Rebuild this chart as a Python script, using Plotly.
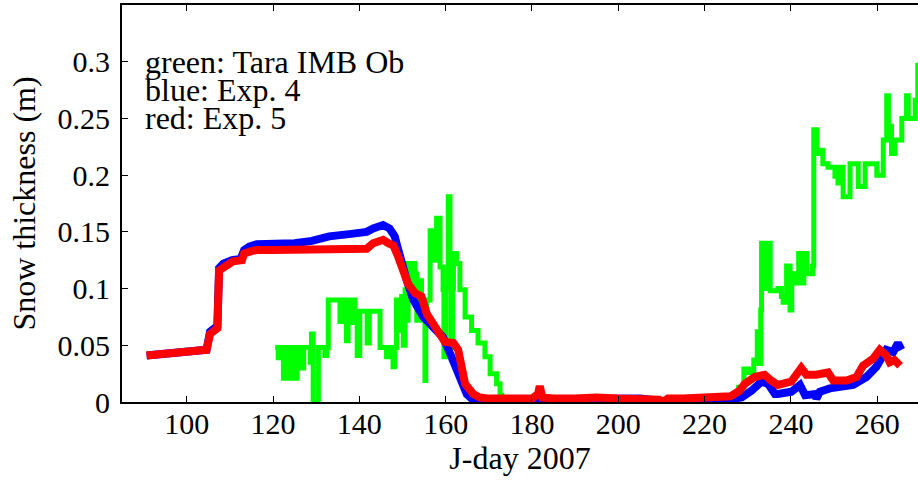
import plotly.graph_objects as go

# Tara IMB observed snow thickness (m) vs. Julian day 2007
obs_day = [120.5, 121.2, 121.6, 122.4, 122.9, 123.5, 124.0, 124.6, 125.1, 125.6,
           126.6, 127.1, 128.2, 128.6, 128.9, 129.3, 130.1, 130.5, 131.6, 132.0,
           132.4, 132.8, 135.3, 135.5, 135.9, 136.3, 137.0, 137.4, 138.2, 138.6,
           139.0, 139.5, 140.1, 141.5, 141.8, 142.3, 144.0, 144.8, 146.0, 146.3,
           146.7, 147.8, 148.2, 148.6, 149.0, 149.8, 150.2, 150.6, 151.0, 151.3,
           152.1, 152.5, 152.9, 153.3, 154.0, 154.4, 155.0, 155.2, 155.4, 155.6,
           156.4, 157.1, 157.9, 158.7, 159.4, 159.6, 160.0, 160.6, 161.0, 161.2,
           161.6, 161.8, 162.5, 163.3, 164.5, 166.0, 167.5, 169.1, 170.3, 171.8,
           172.6, 173.0, 190.0, 210.0, 226.0, 227.4, 227.9, 229.1, 230.2, 231.4,
           232.2, 232.6, 233.0, 233.2, 233.8, 234.7, 235.2, 237.0, 237.8, 238.2,
           239.0, 239.8, 240.2, 241.0, 241.8, 242.6, 243.0, 243.7, 244.5, 245.0,
           245.3, 246.0, 246.7, 247.4, 248.6, 250.2, 250.9, 251.3, 252.1, 252.9,
           253.7, 255.2, 255.6, 256.8, 257.2, 259.5, 259.9, 261.0, 261.4, 262.2,
           262.6, 263.3, 264.1, 265.3, 265.7, 266.4, 266.8, 267.2, 268.4, 268.8,
           269.4]
obs_snow = [0.048, 0.039, 0.048, 0.021, 0.048, 0.021, 0.048, 0.030, 0.021, 0.048,
            0.030, 0.048, 0.048, 0.035, 0.060, 0.000, 0.000, 0.048, 0.048, 0.041,
            0.048, 0.090, 0.090, 0.071, 0.090, 0.075, 0.054, 0.090, 0.070, 0.090,
            0.079, 0.041, 0.080, 0.080, 0.052, 0.080, 0.080, 0.048, 0.048, 0.040,
            0.048, 0.031, 0.048, 0.090, 0.063, 0.093, 0.050, 0.099, 0.072, 0.122,
            0.099, 0.122, 0.113, 0.072, 0.107, 0.090, 0.090, 0.019, 0.070, 0.090,
            0.151, 0.125, 0.162, 0.119, 0.099, 0.040, 0.100, 0.181, 0.130, 0.048,
            0.100, 0.131, 0.122, 0.099, 0.075, 0.063, 0.052, 0.040, 0.025, 0.016,
            0.006, 0.000, 0.000, 0.000, 0.000, 0.005, 0.013, 0.029, 0.026, 0.037,
            0.062, 0.034, 0.081, 0.140, 0.100, 0.140, 0.098, 0.100, 0.093, 0.088,
            0.120, 0.081, 0.113, 0.105, 0.131, 0.105, 0.131, 0.113, 0.113, 0.120,
            0.240, 0.219, 0.222, 0.210, 0.207, 0.199, 0.193, 0.207, 0.181, 0.181,
            0.210, 0.210, 0.190, 0.190, 0.210, 0.210, 0.200, 0.200, 0.231, 0.270,
            0.243, 0.219, 0.231, 0.231, 0.250, 0.250, 0.270, 0.250, 0.250, 0.266,
            0.299]

# Model experiment 4
exp4_day = [90.7, 93.0, 96.0, 100.0, 104.6, 105.4, 106.5, 107.1, 107.5, 108.5,
            110.5, 112.5, 113.3, 114.5, 116.2, 120.0, 125.0, 129.0, 133.0, 137.6,
            141.7, 143.2, 144.5, 145.5, 147.0, 148.2, 148.6, 149.4, 151.0, 152.5,
            154.8, 157.1, 159.4, 161.0, 163.3, 164.9, 166.3, 170.0, 175.0, 181.0,
            185.0, 190.0, 195.0, 200.0, 205.0, 210.0, 215.0, 220.0, 225.0, 228.1,
            228.6, 230.9, 233.2, 234.7, 236.3, 237.0, 240.1, 242.1, 243.3, 245.6,
            245.9, 246.7, 249.0, 254.4, 257.5, 259.8, 262.1, 263.7, 264.8, 265.6]
exp4_snow = [0.041, 0.042, 0.044, 0.045, 0.046, 0.062, 0.065, 0.067, 0.118, 0.122,
             0.125, 0.126, 0.134, 0.137, 0.139, 0.139, 0.140, 0.142, 0.146, 0.148,
             0.150, 0.153, 0.154, 0.156, 0.153, 0.146, 0.140, 0.128, 0.107, 0.090,
             0.075, 0.066, 0.057, 0.043, 0.019, 0.007, 0.002, 0.002, 0.003, 0.002,
             0.003, 0.002, 0.003, 0.002, 0.003, 0.001, 0.002, 0.003, 0.002, 0.003,
             0.004, 0.010, 0.018, 0.016, 0.007, 0.007, 0.009, 0.015, 0.006, 0.007,
             0.003, 0.009, 0.012, 0.015, 0.022, 0.031, 0.046, 0.044, 0.052, 0.046]

# Model experiment 5
exp5_day = [90.7, 93.0, 96.0, 100.0, 104.6, 105.4, 106.5, 107.1, 107.5, 108.5,
            109.3, 110.7, 112.8, 113.3, 115.0, 116.2, 120.0, 130.0, 136.0, 141.7,
            143.2, 145.5, 146.7, 147.9, 149.0, 150.2, 151.3, 152.9, 154.4, 155.6,
            157.1, 158.7, 159.8, 161.8, 162.9, 163.7, 164.5, 166.4, 167.9, 170.0,
            175.0, 180.0, 181.4, 181.8, 182.4, 185.0, 190.0, 195.0, 200.0, 205.0,
            209.5, 210.5, 211.5, 215.0, 220.0, 223.5, 226.0, 228.1, 229.3, 231.6,
            233.9, 235.4, 237.0, 240.1, 242.4, 243.6, 245.9, 248.6, 249.8, 252.9,
            255.2, 256.7, 259.0, 260.6, 262.1, 262.9, 264.0, 265.3]
exp5_snow = [0.041, 0.042, 0.044, 0.045, 0.046, 0.060, 0.063, 0.065, 0.116, 0.119,
             0.121, 0.124, 0.125, 0.131, 0.133, 0.134, 0.134, 0.134, 0.135, 0.135,
             0.140, 0.143, 0.140, 0.138, 0.128, 0.116, 0.104, 0.096, 0.093, 0.078,
             0.069, 0.060, 0.053, 0.052, 0.046, 0.031, 0.016, 0.007, 0.004, 0.003,
             0.003, 0.003, 0.007, 0.014, 0.004, 0.003, 0.003, 0.004, 0.003, 0.003,
             0.002, 0.000, 0.003, 0.003, 0.004, 0.003, 0.005, 0.010, 0.016, 0.022,
             0.024, 0.019, 0.015, 0.018, 0.030, 0.024, 0.024, 0.026, 0.019, 0.019,
             0.022, 0.032, 0.038, 0.046, 0.041, 0.035, 0.037, 0.032]

y_ticks = [0, 0.05, 0.1, 0.15, 0.2, 0.25, 0.3]
x_ticks = [100, 120, 140, 160, 180, 200, 220, 240, 260]
key_lines = ["green: Tara IMB Ob", "blue: Exp. 4", "red: Exp. 5"]
key_levels = [0.3, 0.275, 0.25]

FONT = "Liberation Serif"
TICK_FS = 30
TEXT_FS = 32

fig = go.Figure()
fig.add_trace(go.Scatter(x=obs_day, y=obs_snow, mode="lines", line_shape="hv",
                         line=dict(color="#00FF00", width=5)))
fig.add_trace(go.Scatter(x=exp4_day, y=exp4_snow, mode="lines",
                         line=dict(color="#0000FF", width=8)))
fig.add_trace(go.Scatter(x=exp5_day, y=exp5_snow, mode="lines",
                         line=dict(color="#FF0000", width=8)))

# key lines, set closely one under another
for txt, lev in zip(key_lines, key_levels):
    fig.add_annotation(text=txt, x=0.027, xref="paper", xanchor="left",
                       y=lev, yref="y", yanchor="middle", showarrow=False,
                       font=dict(family=FONT, size=TEXT_FS, color="black"))

fig.update_layout(
    width=918, height=485,
    margin=dict(l=122, r=0, t=5, b=83),
    paper_bgcolor="white", plot_bgcolor="white",
    showlegend=False,
    font=dict(family=FONT, size=TICK_FS, color="black"),
    xaxis=dict(range=[85, 269.45], tickvals=x_ticks, ticks="inside", ticklen=6,
               tickwidth=1, tickcolor="black", showline=True, linecolor="black",
               linewidth=2, mirror="ticks", showgrid=False, zeroline=False,
               ticklabelstandoff=-6,
               title=dict(text="J-day 2007", standoff=0,
                          font=dict(family=FONT, size=TEXT_FS)),
               tickfont=dict(family=FONT, size=TICK_FS)),
    yaxis=dict(range=[0, 0.35], tickvals=y_ticks, ticks="inside", ticklen=6,
               tickwidth=1, tickcolor="black", showline=True, linecolor="black",
               linewidth=2, showgrid=False, zeroline=False,
               ticklabelstandoff=4,
               title=dict(text="Snow thickness (m)", standoff=12,
                          font=dict(family=FONT, size=TEXT_FS)),
               tickfont=dict(family=FONT, size=TICK_FS)),
    yaxis2=dict(range=[0, 0.35], tickvals=y_ticks, overlaying="y", side="right",
                ticks="inside", ticklen=6, tickwidth=1, tickcolor="black",
                showticklabels=False, showline=False, showgrid=False,
                zeroline=False),
)

fig.write_html("out.html")
